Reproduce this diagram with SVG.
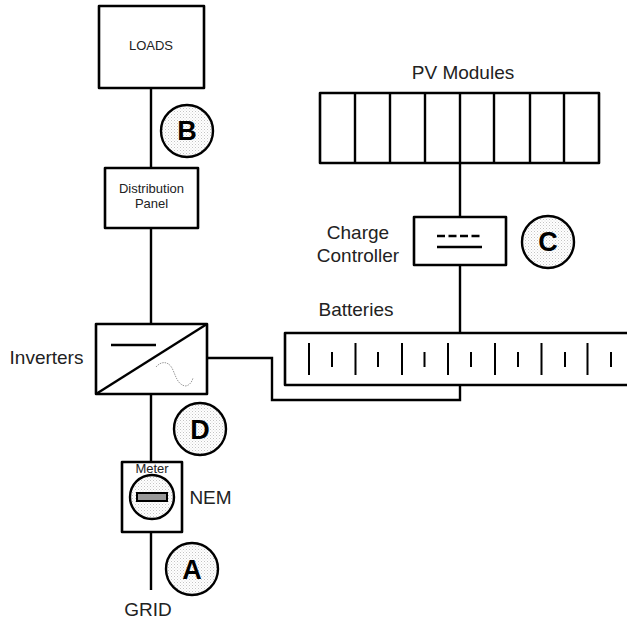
<svg xmlns="http://www.w3.org/2000/svg" width="627" height="619" viewBox="0 0 627 619">
<defs>
<pattern id="dots" width="3" height="3" patternUnits="userSpaceOnUse"><rect width="3" height="3" fill="#fff"/><rect x="0" y="0" width="1" height="1" fill="#c4c4c4"/><rect x="1.500" y="1.500" width="1" height="1" fill="#d8d8d8"/></pattern>
</defs>
<style>
.box{fill:#fff;stroke:#000;stroke-width:2.6;stroke-linejoin:round}
.wire{fill:none;stroke:#000;stroke-width:2.4}
.badge{fill:url(#dots);stroke:#000;stroke-width:2.4}
.tag{font:700 27px "Liberation Sans",Arial,sans-serif;fill:#000;text-anchor:middle}
.lbl{font:19px "Liberation Sans",Arial,sans-serif;fill:#222;text-anchor:middle}
.sm{font:13px "Liberation Sans",Arial,sans-serif;fill:#222;text-anchor:middle}
.tick{stroke:#000;stroke-width:2;fill:none}
</style>
<g id="connectors">
<path class="wire" d="M151 88V168M151 228V324M151 394V462M151 532V590"/>
<path class="wire" d="M460 163V217M460 265V333M460 385V400H272V358H207"/>
</g>
<g id="loads"><rect class="box" x="99" y="6" width="105" height="82"/><text class="sm" x="151" y="50">LOADS</text></g>
<g id="distribution-panel"><rect class="box" x="105" y="168" width="93" height="60"/><text class="sm" x="151.500" y="193">Distribution</text><text class="sm" x="151.500" y="208">Panel</text></g>
<g id="inverters"><rect class="box" x="96" y="324" width="111" height="70"/><path class="wire" d="M96 394L207 324"/><path class="wire" d="M111 345H156"/><path d="M156 367C161 361 168 361 172 368C176 376 177 384 185 386C189 386 192 382 193 378" fill="none" stroke="#999" stroke-width="1" stroke-dasharray="1.500 1"/><text class="lbl" x="46.500" y="364">Inverters</text></g>
<g id="meter"><rect class="box" x="122" y="462" width="60" height="70"/><circle cx="152" cy="497" r="22" fill="url(#dots)" stroke="#000" stroke-width="2.400"/><text class="sm" x="152" y="473">Meter</text><rect x="137" y="493" width="30" height="8" fill="#999" stroke="#000" stroke-width="2"/><text class="lbl" x="210.500" y="504">NEM</text></g>
<g id="pv-modules"><rect class="box" x="320" y="93" width="279" height="70"/><path class="wire" d="M355 93V163M390 93V163M425 93V163M460 93V163M494 93V163M530 93V163M564 93V163"/><text class="lbl" x="463" y="79">PV Modules</text></g>
<g id="charge-controller"><rect class="box" x="414" y="217" width="92" height="48"/><path class="wire" d="M437 236H482" stroke-dasharray="8 3.500"/><path class="wire" d="M437 247H482"/><text class="lbl" x="358" y="239">Charge</text><text class="lbl" x="358" y="262">Controller</text></g>
<g id="batteries"><rect class="box" x="285" y="333" width="344" height="52"/><path class="tick" d="M309 343V375M355.500 343V375M402 343V375M448 343V375M495 343V375M541.500 343V375M587.500 343V375M332 352V367M378 352V367M424.500 352V367M471 352V367M518 352V367M565 352V367M611 352V367"/><text class="lbl" x="356" y="316">Batteries</text></g>
<g id="badge-a"><circle class="badge" cx="192" cy="569" r="26"/><text class="tag" x="192" y="578.500">A</text></g>
<g id="badge-b"><circle class="badge" cx="187" cy="131" r="26"/><text class="tag" x="187" y="140">B</text></g>
<g id="badge-c"><circle class="badge" cx="548" cy="242" r="26"/><text class="tag" x="548" y="251">C</text></g>
<g id="badge-d"><circle class="badge" cx="200" cy="429" r="26"/><text class="tag" x="200" y="438.500">D</text></g>
<g id="grid"><text class="lbl" x="148" y="616">GRID</text></g>
</svg>
